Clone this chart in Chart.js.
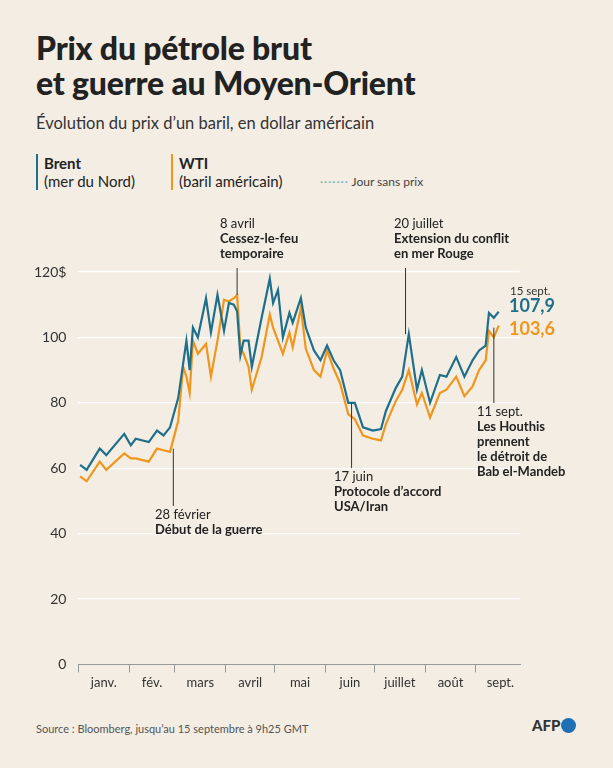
<!DOCTYPE html>
<html><head><meta charset="utf-8">
<script src="https://cdn.jsdelivr.net/npm/chart.js@4/dist/chart.umd.min.js"></script>
<style>
body{margin:0;background:#f3ede3;font-family:Lato,"Noto Sans",sans-serif;width:613px;height:768px;position:relative;overflow:hidden;color:#222}
#t{position:absolute;left:36px;top:30px;font-size:32px;font-weight:900;line-height:35px;letter-spacing:-0.2px}
#s{position:absolute;left:36px;top:113px;font-size:16.5px;color:#333}
.lg{position:absolute;top:154px;font-size:15px;line-height:18px;padding-left:6px}
#src{position:absolute;left:36px;top:722px;font-size:11px;color:#555}
#afp{position:absolute;left:532px;top:716px;font-size:15px;font-weight:900;color:#333}
#afp span{display:inline-block;width:15px;height:15px;border-radius:50%;background:#1f6fb5;vertical-align:-2px;margin-left:1px}
#c{position:absolute;left:0;top:200px;width:613px;height:500px}
</style></head><body>
<div id="t">Prix du pétrole brut<br>et guerre au Moyen-Orient</div>
<div id="s">Évolution du prix d’un baril, en dollar américain</div>
<div class="lg" style="left:36px;border-left:2px solid #1f6f8b"><b>Brent</b><br>(mer du Nord)</div>
<div class="lg" style="left:171px;border-left:2px solid #f0961c"><b>WTI</b><br>(baril américain)</div>
<div class="lg" style="left:314px;top:173px;font-size:12px;color:#444"><span style="color:#7aa;letter-spacing:1px">·······</span> Jour sans prix</div>
<div id="c"><canvas id="cv"></canvas></div>
<div id="src">Source : Bloomberg, jusqu’au 15 septembre à 9h25 GMT</div>
<div id="afp">AFP<span></span></div>
<script>
const days=[1,5,13,17,28,32,35,43,48,52,56,61,64,66,68,70,73,78,81,85,89,92,95,97,99,101,104,106,112,117,119,122,125,129,131,136,139,144,148,152,156,160,165,169,174,180,185,188,194,198,202,207,210,215,221,225,231,236,241,245,249,251,254,257];
const brent=[61,59.5,66,64,70.5,67,69,68,71.5,70,72.5,81.5,92,99,90,103,100,112,101.5,113,102,110.5,110,108,94.5,99,99,91,106,118,110.5,114.5,100,107.5,104.5,112,103,96,93,97.5,93,90,80,80,72.5,71.5,72,77.5,84.5,88,101,84,90,80,88.5,88,94,88,93,96,97.5,107.5,106,107.9];
const wti=[57.5,56,62,59.5,64.5,63,63,62,66,65.5,65,74.5,91,88,83,99,95,98,88,99,111.5,111,112,113,97,95,91,84,94,107,103,99,95,101.5,97,109,96.5,90,88,96,90.5,86,76.5,75,70,69,68.5,73.5,80.5,84,90,79.5,83,75.5,83,84,88,82,85,90,93,102,100,103.6];
const monthStarts=[0,31,59,90,120,151,181,212,243,273];
const monthLabels=["janv.","fév.","mars","avril","mai","juin","juillet","août","sept."];
const yTicks=[0,20,40,60,80,100,120];
const notes=[
 {d:58,v:66,ty:1,lines:["28 février","Début de la guerre"],ly:508,tx:155},
 {d:97,v:113,ty:-1,lines:["8 avril","Cessez-le-feu","temporaire"],ly:262,tx:220},
 {d:167,v:80,ty:1,lines:["17 juin","Protocole d’accord","USA/Iran"],ly:470,tx:334},
 {d:200,v:101,ty:-1,lines:["20 juillet","Extension du conflit","en mer Rouge"],ly:262,tx:394},
 {d:254,v:103,ty:1,lines:["11 sept.","Les Houthis","prennent","le détroit de","Bab el-Mandeb"],ly:405,tx:477}
];
const F='Lato,"Noto Sans",sans-serif';
const mk=(d,v)=>d.map((x,i)=>({x,y:v[i]}));
const plug={id:'ann',afterDatasetsDraw(ch){
 const c=ch.ctx,xs=ch.scales.x,ys=ch.scales.y,top=200;
 c.save();
 notes.forEach(n=>{
  const px=xs.getPixelForValue(n.d),py=ys.getPixelForValue(n.v);
  const ly=n.ly-top;
  c.strokeStyle='#333';c.lineWidth=1;c.beginPath();
  if(n.ty>0){c.moveTo(px,py);c.lineTo(px,ly-2);}else{c.moveTo(px,ly+6);c.lineTo(px,py);}
  c.stroke();
  c.fillStyle='#222';c.textBaseline='top';
  let y0=n.ty>0?ly:ly-n.lines.length*15;
  n.lines.forEach((t,i)=>{c.font=(i==0?'':'bold ')+'13px '+F;c.fillText(t,n.tx,y0+i*15);});
 });
 c.font='11.5px '+F;c.fillStyle='#333';c.fillText('15 sept.',510,300-top-14);
 c.font='bold 18px '+F;c.textBaseline='middle';
 c.fillStyle='#1f6f8b';c.fillText('107,9',509,ys.getPixelForValue(109.5));
 c.fillStyle='#f0961c';c.fillText('103,6',509,ys.getPixelForValue(102.5));
 c.restore();
}};
new Chart(document.getElementById('cv'),{type:'line',
 data:{datasets:[
  {data:mk(days,brent),borderColor:'#1f6f8b',borderWidth:2.2,pointRadius:0,tension:0},
  {data:mk(days,wti),borderColor:'#f0961c',borderWidth:2.2,pointRadius:0,tension:0}]},
 options:{responsive:true,maintainAspectRatio:false,animation:false,
  layout:{padding:{top:72,right:93,left:22,bottom:6}},
  plugins:{legend:{display:false},tooltip:{enabled:false}},
  scales:{
   x:{type:'linear',min:0,max:270,
    afterBuildTicks:a=>{const t=[];monthStarts.forEach(m=>t.push({value:m}));for(let i=0;i<9;i++)t.push({value:(monthStarts[i]+monthStarts[i+1])/2});t.sort((p,q)=>p.value-q.value);a.ticks=t.filter(k=>k.value<=270);},
    ticks:{autoSkip:false,maxRotation:0,color:'#333',font:{size:13,family:F},
     callback:v=>{const i=monthStarts.findIndex((m,j)=>j<9&&(m+monthStarts[j+1])/2===v);return i>=0?monthLabels[i]:'';}},
    grid:{drawOnChartArea:false,tickLength:8,color:c=>monthStarts.includes(c.tick.value)?'#999':'rgba(0,0,0,0)'},
    border:{color:'#999'}},
   y:{min:0,max:120,afterBuildTicks:a=>{a.ticks=yTicks.map(v=>({value:v}));},
    ticks:{color:'#333',padding:12,font:{size:14,family:F},callback:v=>v===120?'120$':v},
    grid:{color:c=>c.tick.value===0?'rgba(0,0,0,0)':'#ffffff',lineWidth:1.3,drawTicks:false},border:{display:false}}
  }}
 ,plugins:[plug]});
</script></body></html>
